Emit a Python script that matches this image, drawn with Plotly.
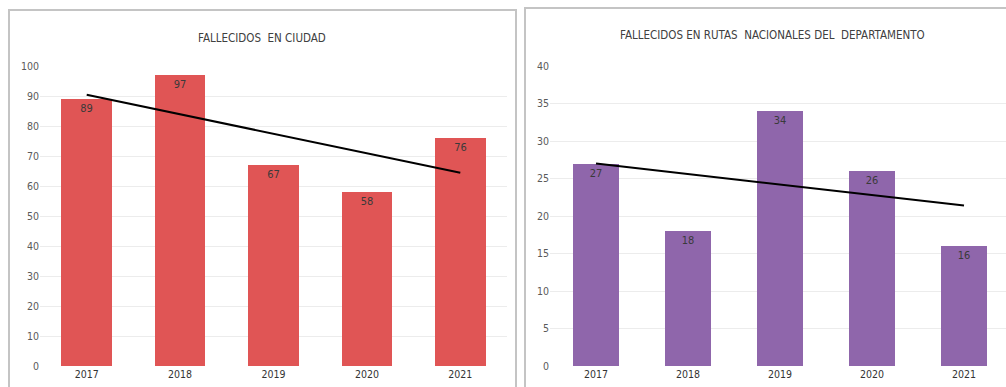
import numpy as np
import plotly.graph_objects as go

# Data
years = ["2017", "2018", "2019", "2020", "2021"]
ciudad = [89, 97, 67, 58, 76]
rutas = [27, 18, 34, 26, 16]

title_ciudad = "FALLECIDOS  EN CIUDAD"
title_rutas = "FALLECIDOS EN RUTAS  NACIONALES DEL  DEPARTAMENTO"

W, H = 1006, 387
FONT = "DejaVu Sans Condensed, Liberation Sans Narrow, sans-serif"


def px_x(v):
    return v / W


def px_y(v):
    return (H - v) / H


def trend(values):
    x = np.arange(len(values))
    slope, intercept = np.polyfit(x, values, 1)
    return list(intercept + slope * x)


fig = go.Figure()

# Left chart: deaths in the city
fig.add_trace(go.Bar(
    x=years, y=ciudad, width=0.54,
    marker=dict(color="#e05555", line=dict(width=0)),
    text=[str(v) for v in ciudad], textposition="inside",
    insidetextanchor="end", textangle=0, constraintext="none",
    textfont=dict(family=FONT, size=11, color="#3a3a3a"),
    xaxis="x", yaxis="y", showlegend=False,
))
fig.add_trace(go.Scatter(
    x=years, y=trend(ciudad), mode="lines",
    line=dict(color="black", width=2),
    xaxis="x", yaxis="y", showlegend=False,
))

# Right chart: deaths on national routes
fig.add_trace(go.Bar(
    x=years, y=rutas, width=0.51,
    marker=dict(color="#8f66ab", line=dict(width=0)),
    text=[str(v) for v in rutas], textposition="inside",
    insidetextanchor="end", textangle=0, constraintext="none",
    textfont=dict(family=FONT, size=11, color="#3a3a3a"),
    xaxis="x2", yaxis="y2", showlegend=False,
))
fig.add_trace(go.Scatter(
    x=years, y=trend(rutas), mode="lines",
    line=dict(color="black", width=2),
    xaxis="x2", yaxis="y2", showlegend=False,
))

axis_common = dict(
    showline=False, zeroline=False, ticks="", automargin=False,
)
tickfont_y = dict(family=FONT, size=10.5, color="#5a5a5a")
tickfont_x = dict(family=FONT, size=10.5, color="#333333")

ydom = [px_y(366), px_y(66)]

fig.update_layout(
    width=W, height=H,
    margin=dict(l=0, r=0, t=0, b=0, pad=0, autoexpand=False),
    paper_bgcolor="white", plot_bgcolor="white",
    bargap=0,
    xaxis=dict(domain=[px_x(40), px_x(507)], type="category",
               range=[-0.5, 4.5], showgrid=False, tickfont=tickfont_x,
               **axis_common),
    yaxis=dict(domain=ydom, range=[0, 100], dtick=10,
               showgrid=True, gridcolor="#ececec", gridwidth=1.2,
               tickfont=tickfont_y, anchor="x", **axis_common),
    xaxis2=dict(domain=[px_x(550), 1.0], type="category",
                range=[-0.5, -0.5 + 456 / 92], showgrid=False,
                tickfont=tickfont_x, anchor="y2", **axis_common),
    yaxis2=dict(domain=ydom, range=[0, 40], dtick=5,
                showgrid=True, gridcolor="#ececec", gridwidth=1.2,
                tickfont=tickfont_y, anchor="x2", **axis_common),
    annotations=[
        dict(text=title_ciudad, x=px_x(262), y=px_y(38), xref="paper",
             yref="paper", showarrow=False, xanchor="center",
             yanchor="middle",
             font=dict(family=FONT, size=11.5, color="#404040")),
        dict(text=title_rutas, x=px_x(772), y=px_y(35), xref="paper",
             yref="paper", showarrow=False, xanchor="center",
             yanchor="middle",
             font=dict(family=FONT, size=11.5, color="#404040")),
    ],
    shapes=[
        # panel frames
        dict(type="rect", xref="paper", yref="paper",
             x0=px_x(9), x1=px_x(516), y0=px_y(400), y1=px_y(10),
             line=dict(color="#c4c4c4", width=2), fillcolor="rgba(0,0,0,0)",
             layer="below"),
        dict(type="rect", xref="paper", yref="paper",
             x0=px_x(525), x1=px_x(1020), y0=px_y(400), y1=px_y(8),
             line=dict(color="#c4c4c4", width=2), fillcolor="rgba(0,0,0,0)",
             layer="below"),
    ],
)

fig.write_html("out.html")
